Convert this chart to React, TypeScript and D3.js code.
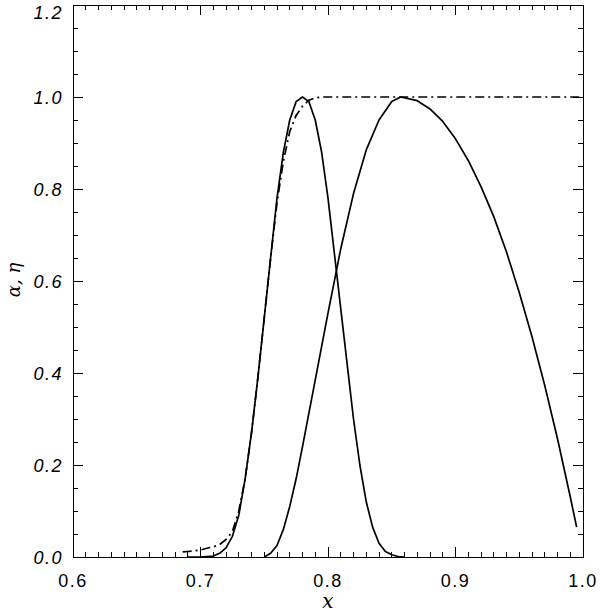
import React from "react";
import * as d3 from "d3";

// Dash-dot curve (sigmoid)
const sigX = [0.686, 0.69, 0.70, 0.705, 0.71, 0.715, 0.72, 0.725, 0.73, 0.735, 0.74, 0.745, 0.75, 0.755, 0.76, 0.765, 0.77, 0.775, 0.78, 0.785, 0.79, 0.795, 0.80, 0.85, 0.90, 0.95, 1.0];
const sigY = [0.011, 0.012, 0.015, 0.019, 0.022, 0.027, 0.038, 0.055, 0.10, 0.17, 0.27, 0.39, 0.52, 0.65, 0.77, 0.86, 0.925, 0.96, 0.98, 0.993, 0.998, 1.0, 1.0, 1.0, 1.0, 1.0, 1.0];

// Narrow bump (solid)
const narrowX = [0.69, 0.70, 0.71, 0.715, 0.72, 0.725, 0.73, 0.735, 0.74, 0.745, 0.75, 0.755, 0.76, 0.765, 0.77, 0.775, 0.78, 0.785, 0.79, 0.795, 0.80, 0.805, 0.81, 0.815, 0.82, 0.825, 0.83, 0.835, 0.84, 0.845, 0.85, 0.855, 0.86];
const narrowY = [0.0, 0.0, 0.002, 0.008, 0.02, 0.045, 0.09, 0.17, 0.27, 0.39, 0.52, 0.65, 0.78, 0.88, 0.95, 0.99, 1.0, 0.99, 0.95, 0.88, 0.78, 0.66, 0.54, 0.42, 0.30, 0.2, 0.12, 0.065, 0.03, 0.012, 0.005, 0.001, 0.0];

// Broad bump (solid)
const broadX = [0.75, 0.755, 0.76, 0.765, 0.77, 0.775, 0.78, 0.79, 0.80, 0.81, 0.82, 0.83, 0.84, 0.85, 0.857, 0.87, 0.88, 0.89, 0.90, 0.91, 0.92, 0.93, 0.94, 0.95, 0.96, 0.97, 0.98, 0.99, 0.995];
const broadY = [0.0, 0.008, 0.025, 0.06, 0.11, 0.17, 0.24, 0.385, 0.53, 0.67, 0.79, 0.885, 0.95, 0.99, 1.0, 0.992, 0.974, 0.947, 0.909, 0.862, 0.805, 0.74, 0.663, 0.575, 0.479, 0.373, 0.257, 0.131, 0.065];

const xTicks = [0.6, 0.7, 0.8, 0.9, 1.0];
const yTicks = [0.0, 0.2, 0.4, 0.6, 0.8, 1.0, 1.2];

const W = 600, H = 614;
const L = 73, R = 583, T = 5, B = 557;

export default function App() {
  const x = d3.scaleLinear().domain([0.6, 1.0]).range([L, R]);
  const y = d3.scaleLinear().domain([0, 1.2]).range([B, T]);
  const line = d3.line<[number, number]>().x(d => x(d[0])).y(d => y(d[1]));
  const pts = (xs: number[], ys: number[]) => xs.map((v, i) => [v, ys[i]] as [number, number]);

  const xMinor = d3.range(0, 41).map(i => 0.6 + i * 0.01);
  const yMinor = d3.range(0, 25).map(i => i * 0.05);
  const numFont = "'Liberation Sans', 'DejaVu Sans', sans-serif";

  return (
    <svg width={W} height={H} style={{ position: "absolute", left: 0, top: 0, background: "#fff" }}>
      <rect x={0} y={0} width={W} height={H} fill="#fff" />
      <g stroke="#000" strokeWidth={1} shapeRendering="crispEdges">
        <rect x={L} y={T} width={R - L} height={B - T} fill="none" />
        {xMinor.map((v, i) => {
          const major = i % 10 === 0;
          const len = major ? 10 : 5;
          return (
            <g key={"xm" + i}>
              <line x1={x(v)} x2={x(v)} y1={B} y2={B - len} />
              <line x1={x(v)} x2={x(v)} y1={T} y2={T + len} />
            </g>
          );
        })}
        {yMinor.map((v, i) => {
          const major = i % 4 === 0;
          const len = major ? 10 : 5;
          return (
            <g key={"ym" + i}>
              <line x1={L} x2={L + len} y1={y(v)} y2={y(v)} />
              <line x1={R} x2={R - len} y1={y(v)} y2={y(v)} />
            </g>
          );
        })}
      </g>
      <g fill="none" stroke="#000" strokeWidth={1.7} strokeLinejoin="round">
        <path d={line(pts(sigX, sigY)) || ""} strokeDasharray="9,4,2,4" />
        <path d={line(pts(narrowX, narrowY)) || ""} />
        <path d={line(pts(broadX, broadY)) || ""} />
      </g>
      <g fontFamily={numFont} fontSize={18} fill="#000">
        {xTicks.map((v, i) => (
          <text key={"xt" + i} x={x(v)} y={587} textAnchor="middle" letterSpacing={1.5}>
            {v.toFixed(1)}
          </text>
        ))}
        {yTicks.map((v, i) => (
          <text key={"yt" + i} x={63} y={Math.max(y(v) + 6.5, 19)} textAnchor="end" fontStyle="italic" letterSpacing={1.5}>
            {v.toFixed(1)}
          </text>
        ))}
      </g>
      <text x={328} y={608} textAnchor="middle" fontFamily="'DejaVu Serif', serif" fontStyle="italic" fontSize={20}>x</text>
      <text transform={`translate(20, 280) rotate(-90)`} textAnchor="middle" fontFamily="'DejaVu Serif', serif" fontStyle="italic" fontSize={18}>α, η</text>
    </svg>
  );
}
